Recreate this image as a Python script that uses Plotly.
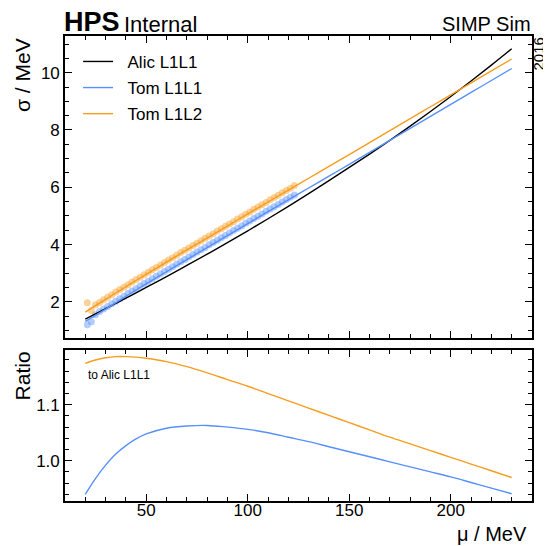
import plotly.graph_objects as go

# fitted curves
mass = [20, 25, 30, 35, 40, 45, 50, 60, 70, 80, 90, 100, 110, 120, 130, 140,
        150, 160, 170, 180, 190, 200, 210, 220, 230]
alic_l1l1 = [1.40, 1.581, 1.763, 1.947, 2.131, 2.317, 2.504, 2.882, 3.270, 3.663,
             4.066, 4.479, 4.902, 5.335, 5.778, 6.231, 6.694, 7.159, 7.639, 8.134,
             8.644, 9.169, 9.709, 10.264, 10.834]
tom_l1l1 = [1.316, 1.527, 1.745, 1.970, 2.195, 2.414, 2.629, 3.052, 3.476, 3.894,
            4.310, 4.730, 5.147, 5.559, 5.974, 6.387, 6.801, 7.219, 7.637, 8.055,
            8.473, 8.891, 9.309, 9.727, 10.145]
tom_l1l2 = [1.644, 1.866, 2.087, 2.309, 2.527, 2.746, 2.962, 3.386, 3.813, 4.227,
            4.647, 5.070, 5.485, 5.901, 6.315, 6.729, 7.142, 7.559, 7.976, 8.393,
            8.810, 9.227, 9.644, 10.061, 10.478]

# ratio panel (to Alic L1L1)
ratio_l1l1 = [0.940, 0.968, 0.992, 1.012, 1.027, 1.039, 1.048, 1.058, 1.062, 1.063,
              1.060, 1.056, 1.050, 1.042, 1.034, 1.025, 1.016, 1.007, 0.998, 0.989,
              0.980, 0.971, 0.961, 0.951, 0.941]
ratio_l1l2 = [1.174, 1.180, 1.184, 1.186, 1.186, 1.185, 1.183, 1.177, 1.168, 1.157,
              1.145, 1.133, 1.120, 1.107, 1.094, 1.081, 1.068, 1.055, 1.042, 1.030,
              1.018, 1.006, 0.994, 0.982, 0.970]

# measured points
pts_mass = list(range(21, 125, 2))
pts_l1l1 = [1.20, 1.31, 1.55, 1.66, 1.75, 1.84, 1.93, 2.02, 2.11, 2.20, 2.29, 2.38,
            2.46, 2.55, 2.64, 2.72, 2.81, 2.89, 2.97, 3.06, 3.14, 3.23, 3.31, 3.40,
            3.48, 3.57, 3.65, 3.74, 3.82, 3.90, 3.99, 4.07, 4.15, 4.24, 4.32, 4.40,
            4.49, 4.57, 4.65, 4.74, 4.82, 4.91, 4.99, 5.07, 5.16, 5.24, 5.32, 5.40,
            5.49, 5.57, 5.65, 5.73]
pts_l1l2 = [1.97, 1.70, 1.90, 1.98, 2.07, 2.16, 2.25, 2.34, 2.43, 2.51, 2.60, 2.69,
            2.78, 2.86, 2.95, 3.03, 3.12, 3.20, 3.29, 3.37, 3.46, 3.54, 3.63, 3.72,
            3.80, 3.88, 3.97, 4.05, 4.13, 4.22, 4.30, 4.38, 4.47, 4.55, 4.64, 4.72,
            4.80, 4.89, 4.97, 5.06, 5.14, 5.23, 5.31, 5.39, 5.47, 5.56, 5.64, 5.72,
            5.81, 5.89, 5.97, 6.06]

BLUE = "#5790fc"
ORANGE = "#f89c20"
FONT = "Liberation Sans"
PAD = "\u00a0\u00a0"  # push legend text away from the line sample

fig = go.Figure()

fig.add_trace(go.Scatter(x=pts_mass, y=pts_l1l1, mode="markers", showlegend=False,
                         marker=dict(color=BLUE, size=7, opacity=0.45),
                         xaxis="x", yaxis="y"))
fig.add_trace(go.Scatter(x=pts_mass, y=pts_l1l2, mode="markers", showlegend=False,
                         marker=dict(color=ORANGE, size=7, opacity=0.45),
                         xaxis="x", yaxis="y"))

fig.add_trace(go.Scatter(x=mass, y=alic_l1l1, mode="lines", name=PAD + "Alic L1L1",
                         legendgroup="a",
                         line=dict(color="black", width=1.4, shape="spline"),
                         xaxis="x", yaxis="y"))
fig.add_trace(go.Scatter(x=mass, y=tom_l1l1, mode="lines", name=PAD + "Tom L1L1",
                         legendgroup="b",
                         line=dict(color=BLUE, width=1.4, shape="spline"),
                         xaxis="x", yaxis="y"))
fig.add_trace(go.Scatter(x=mass, y=tom_l1l2, mode="lines", name=PAD + "Tom L1L2",
                         legendgroup="c",
                         line=dict(color=ORANGE, width=1.4, shape="spline"),
                         xaxis="x", yaxis="y"))

fig.add_trace(go.Scatter(x=mass, y=ratio_l1l1, mode="lines", showlegend=False,
                         line=dict(color=BLUE, width=1.4, shape="spline"),
                         xaxis="x2", yaxis="y2"))
fig.add_trace(go.Scatter(x=mass, y=ratio_l1l2, mode="lines", showlegend=False,
                         line=dict(color=ORANGE, width=1.4, shape="spline"),
                         xaxis="x2", yaxis="y2"))

axis_style = dict(showline=True, linecolor="black", linewidth=1.6, mirror="ticks",
                  ticks="inside", ticklen=7, tickwidth=1.2, tickcolor="black",
                  showgrid=False, zeroline=False, automargin=False,
                  tickfont=dict(family=FONT, size=17, color="black"))
minor_style = dict(ticklen=4, ticks="inside", tickcolor="black", tickwidth=1.2)

# the page body adds 8px around the figure, so the figure is 8px smaller
fig.update_layout(
    width=543, height=538,
    margin=dict(l=57, r=19, t=28, b=45),
    paper_bgcolor="white", plot_bgcolor="white",
    font=dict(family=FONT, color="black"),
    xaxis=dict(axis_style, range=[10, 240], domain=[0, 1], anchor="y",
               matches="x2", showticklabels=False, dtick=50, tick0=0,
               minor=dict(minor_style, dtick=10)),
    yaxis=dict(axis_style, range=[0.73, 11.28], domain=[0.35, 1], anchor="x",
               dtick=2, tick0=0, minor=dict(minor_style, dtick=0.5)),
    xaxis2=dict(axis_style, range=[10, 240], domain=[0, 1], anchor="y2",
                dtick=50, tick0=0, ticklabelstandoff=-7,
                minor=dict(minor_style, dtick=10)),
    yaxis2=dict(axis_style, range=[0.928, 1.198], domain=[0, 0.325], anchor="x2",
                dtick=0.1, tick0=0, tickformat=".1f",
                minor=dict(minor_style, dtick=0.02)),
    legend=dict(x=0.028, y=0.983, xanchor="left", yanchor="top",
                font=dict(family=FONT, size=17, color="black"),
                bgcolor="rgba(0,0,0,0)", itemwidth=30, tracegroupgap=1),
    showlegend=True,
)

fig.add_annotation(text="<b>HPS</b>", xref="paper", yref="paper", x=0, y=1,
                   xanchor="left", yanchor="bottom", showarrow=False, xshift=-3, yshift=-3,
                   font=dict(family=FONT, size=27, color="black"))
fig.add_annotation(text="Internal", xref="paper", yref="paper", x=0, y=1,
                   xanchor="left", yanchor="bottom", showarrow=False, xshift=57, yshift=-3,
                   font=dict(family=FONT, size=22, color="black"))
fig.add_annotation(text="SIMP Sim", xref="paper", yref="paper", x=1, y=1,
                   xanchor="right", yanchor="bottom", showarrow=False, xshift=1, yshift=-1,
                   font=dict(family=FONT, size=20, color="black"))
fig.add_annotation(text="2016", xref="paper", yref="paper", x=1, y=1,
                   xanchor="center", yanchor="top", showarrow=False, textangle=-90,
                   xshift=6, font=dict(family=FONT, size=15, color="black"))
fig.add_annotation(text="σ / MeV", xref="paper", yref="paper", x=0, y=1,
                   xanchor="center", yanchor="top", showarrow=False, textangle=-90,
                   xshift=-43, font=dict(family=FONT, size=21, color="black"))
fig.add_annotation(text="Ratio", xref="paper", yref="paper", x=0, y=0.325,
                   xanchor="center", yanchor="top", showarrow=False, textangle=-90,
                   xshift=-43, font=dict(family=FONT, size=21, color="black"))
fig.add_annotation(text="μ / MeV", xref="paper", yref="paper", x=1, y=0,
                   xanchor="right", yanchor="top", showarrow=False, yshift=-20, xshift=-3,
                   font=dict(family=FONT, size=20, color="black"))
fig.add_annotation(text="to Alic L1L1", xref="paper", yref="paper", x=0.045, y=0.27,
                   xanchor="left", yanchor="middle", showarrow=False,
                   font=dict(family=FONT, size=12, color="black"))

fig.write_html("out.html")
